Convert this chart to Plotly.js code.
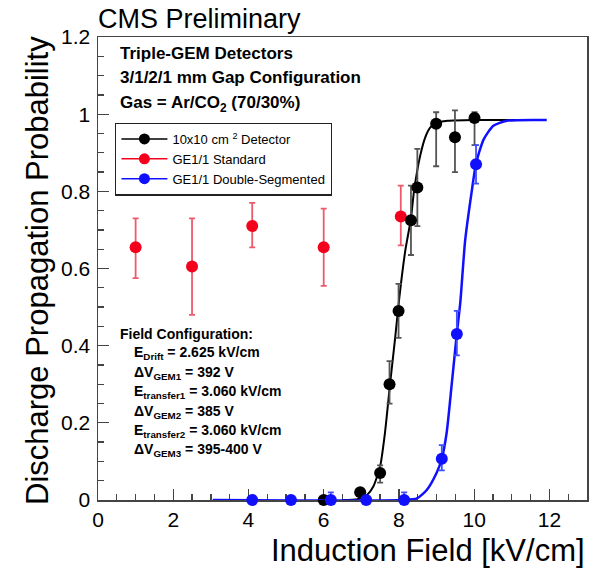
<!DOCTYPE html>
<html>
<head>
<meta charset="utf-8">
<script src="https://cdn.plot.ly/plotly-3.0.1.min.js"></script>
<style>html,body{margin:0;padding:0;background:#fff;}#chart{width:597px;height:572px;}</style>
</head>
<body>
<div id="chart"></div>
<script>
// ---- data ----
// 10x10 cm^2 detector (black)
const blackX = [6.0, 6.97, 7.5, 7.75, 7.99, 8.32, 8.49, 8.99, 9.49, 10.01];
const blackY = [0, 0.02, 0.07, 0.30, 0.49, 0.725, 0.81, 0.975, 0.94, 0.99];
const blackErrUp = [0, 0.01, 0.02, 0.06, 0.07, 0.09, 0.10, 0.03, 0.07, 0.015];
const blackErrDn = [0, 0.01, 0.025, 0.05, 0.07, 0.09, 0.10, 0.11, 0.09, 0.07];
// GE1/1 standard (red)
const redX = [1.0, 2.5, 4.1, 6.0, 8.05];
const redY = [0.655, 0.605, 0.71, 0.655, 0.735];
const redErrUp = [0.075, 0.125, 0.06, 0.10, 0.08];
const redErrDn = [0.08, 0.125, 0.055, 0.10, 0.075];
// GE1/1 double-segmented (blue)
const blueX = [4.1, 5.13, 6.19, 7.13, 8.14, 9.14, 9.54, 10.05];
const blueY = [0, 0, 0, 0, 0, 0.107, 0.43, 0.87];
const blueErrUp = [0, 0, 0.02, 0, 0.02, 0.035, 0.06, 0.05];
const blueErrDn = [0, 0, 0, 0, 0, 0.03, 0.055, 0.05];
// fit curves
const blackFitX = [6.5, 6.9, 7.15, 7.32, 7.5, 7.63, 7.77, 7.9, 8.01, 8.17, 8.32, 8.4, 8.56, 8.7, 8.83, 9.0, 9.3, 10.0, 11.3];
const blackFitY = [0, 0.002, 0.013, 0.035, 0.087, 0.175, 0.306, 0.42, 0.524, 0.647, 0.73, 0.8, 0.89, 0.94, 0.965, 0.978, 0.983, 0.985, 0.985];
const blueFitX = [3.05, 8.16, 8.48, 8.74, 9.0, 9.14, 9.27, 9.41, 9.54, 9.63, 9.76, 9.94, 10.05, 10.25, 10.51, 10.87, 11.93];
const blueFitY = [0, 0, 0.004, 0.026, 0.07, 0.107, 0.175, 0.306, 0.432, 0.51, 0.672, 0.803, 0.872, 0.934, 0.97, 0.983, 0.985];
// labels
const seriesNames = ["10x10 cm <sup>2</sup> Detector", "GE1/1 Standard", "GE1/1 Double-Segmented"];
const headerLines = ["Triple-GEM Detectors", "3/1/2/1 mm Gap Configuration", "Gas = Ar/CO<sub>2</sub> (70/30%)"];
const fieldTitle = "Field Configuration:";
const fieldLines = [
  "E<sub>Drift</sub> = 2.625 kV/cm",
  "ΔV<sub>GEM1</sub> = 392 V",
  "E<sub>transfer1</sub> = 3.060 kV/cm",
  "ΔV<sub>GEM2</sub> = 385 V",
  "E<sub>transfer2</sub> = 3.060 kV/cm",
  "ΔV<sub>GEM3</sub> = 395-400 V"
];
const xTitle = "Induction Field [kV/cm]";
const yTitle = "Discharge Propagation Probability";
const topLabel = "CMS Preliminary";

const BLACK = "#000000", RED = "#f5001c", BLUE = "#1010ff";
const FONT = "Liberation Sans, Arial, sans-serif";

const traces = [
  {x: redX, y: redY, mode: "markers", showlegend: false, cliponaxis: false,
   marker: {color: RED, size: 12},
   error_y: {type: "data", symmetric: false, array: redErrUp, arrayminus: redErrDn, color: "#ee5a6a", thickness: 1.8, width: 3}},
  {x: blackFitX, y: blackFitY, mode: "lines", showlegend: false, cliponaxis: false,
   line: {color: BLACK, width: 2, shape: "spline", smoothing: 0.6}},
  {x: blackX, y: blackY, mode: "markers", showlegend: false, cliponaxis: false,
   marker: {color: BLACK, size: 12},
   error_y: {type: "data", symmetric: false, array: blackErrUp, arrayminus: blackErrDn, color: "#555555", thickness: 1.8, width: 3}},
  {x: blueFitX, y: blueFitY, mode: "lines", showlegend: false, cliponaxis: false,
   line: {color: BLUE, width: 2.5, shape: "spline", smoothing: 0.6}},
  {x: blueX, y: blueY, mode: "markers", showlegend: false, cliponaxis: false,
   marker: {color: BLUE, size: 12},
   error_y: {type: "data", symmetric: false, array: blueErrUp, arrayminus: blueErrDn, color: "#4050ff", thickness: 1.8, width: 3}},
  // legend entries
  {x: [null], y: [null], mode: "lines+markers", name: seriesNames[0], line: {color: BLACK, width: 1.5}, marker: {color: BLACK, size: 11}},
  {x: [null], y: [null], mode: "lines+markers", name: seriesNames[1], line: {color: RED, width: 1.5}, marker: {color: RED, size: 11}},
  {x: [null], y: [null], mode: "lines+markers", name: seriesNames[2], line: {color: BLUE, width: 1.5}, marker: {color: BLUE, size: 11}}
];

const annotations = [];
function ann(text, x, y, size, bold, extra) {
  const a = Object.assign({text: bold ? "<b>" + text + "</b>" : text, xref: "paper", yref: "paper", x: x, y: y,
    xanchor: "left", yanchor: "middle", showarrow: false, font: {family: FONT, size: size, color: "#000"}}, extra || {});
  annotations.push(a);
}
ann(topLabel, -0.004, 1.039, 27, false);
const headerY = [0.9654, 0.9136, 0.855];
headerLines.forEach((t, i) => ann(t, 0.041, headerY[i], 17, true));
ann(fieldTitle, 0.041, 0.3585, 14, true);
const fieldY = [0.3175, 0.2743, 0.2333, 0.1901, 0.149, 0.108];
fieldLines.forEach((t, i) => ann(t, 0.0695, fieldY[i], 14, true));
ann(xTitle, 1.0, -0.108, 31, false, {xanchor: "right"});
ann(yTitle, -0.1227, 0.4968, 31, false, {xanchor: "center", textangle: -90});

const axisCommon = {
  showgrid: false, zeroline: false, showline: true, linecolor: "#444", linewidth: 1.5, mirror: true,
  ticks: "inside", tickcolor: "#444", tickwidth: 1.3, ticklen: 11, layer: "below traces",
  tickfont: {family: FONT, size: 21, color: "#000"}
};

const layout = {
  width: 597, height: 572,
  margin: {l: 98, r: 10, t: 37, b: 72},
  paper_bgcolor: "#fff", plot_bgcolor: "#fff",
  font: {family: FONT},
  xaxis: Object.assign({}, axisCommon, {range: [0, 13], dtick: 2, tick0: 0, ticklabelstandoff: 0,
    minor: {dtick: 0.5, ticks: "inside", ticklen: 6, tickcolor: "#444", tickwidth: 1.3, showgrid: false}}),
  yaxis: Object.assign({}, axisCommon, {range: [0, 1.2], dtick: 0.2, tick0: 0, ticklabelstandoff: 2,
    minor: {dtick: 0.05, ticks: "inside", ticklen: 6, tickcolor: "#444", tickwidth: 1.3, showgrid: false}}),
  showlegend: true,
  legend: {x: 0.035, y: 0.815, xanchor: "left", yanchor: "top", bgcolor: "#fff", bordercolor: "#222", borderwidth: 1.3,
    font: {family: FONT, size: 13, color: "#000"}, itemwidth: 46, tracegroupgap: 0},
  annotations: annotations
};

Plotly.newPlot("chart", traces, layout, {staticPlot: true, displayModeBar: false});
</script>
</body>
</html>
